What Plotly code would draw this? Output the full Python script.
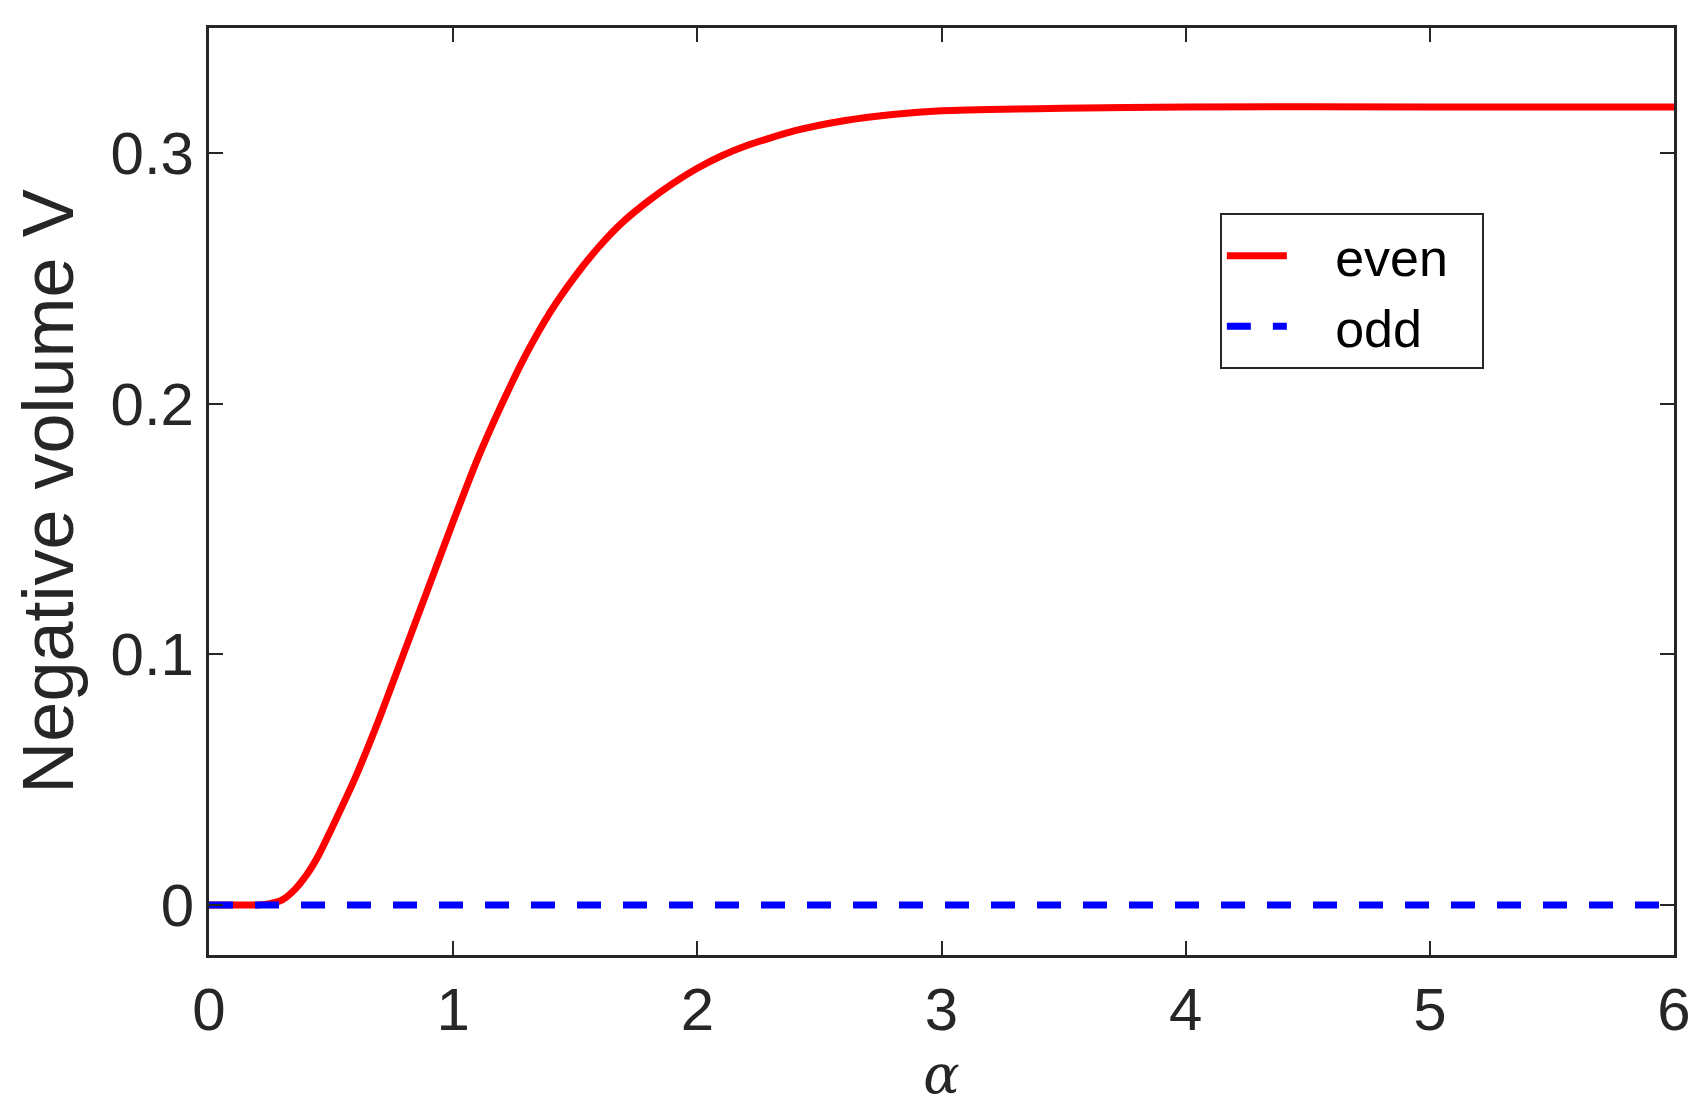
import plotly.graph_objects as go

alpha_even = [0, 0.1, 0.2, 0.25, 0.3, 0.35, 0.4, 0.45, 0.5, 0.6, 0.7, 0.8, 0.9, 1.0, 1.1, 1.2, 1.3, 1.4, 1.5, 1.6, 1.7, 1.8, 1.9, 2.0, 2.1, 2.2, 2.4, 2.6, 2.8, 3.0, 3.5, 4.0, 5.0, 6.0]
v_even = [0, 0, 0, 0.0005, 0.002, 0.006, 0.012, 0.02, 0.03, 0.051, 0.075, 0.101, 0.127, 0.153, 0.178, 0.200, 0.220, 0.237, 0.251, 0.263, 0.273, 0.281, 0.288, 0.294, 0.299, 0.303, 0.309, 0.313, 0.3155, 0.317, 0.318, 0.3185, 0.3185, 0.3185]
alpha_odd = [0, 6]
v_odd = [0, 0]
x_ticks = [0, 1, 2, 3, 4, 5, 6]
y_ticks = [0, 0.1, 0.2, 0.3]
y_labels = ["0", "0.1", "0.2", "0.3"]

fig = go.Figure()
fig.add_trace(go.Scatter(x=alpha_even, y=v_even, mode="lines", name="   even  ",
                         line=dict(color="#ff0000", width=7, shape="spline", smoothing=0.6)))
fig.add_trace(go.Scatter(x=alpha_odd, y=v_odd, mode="lines", name="   odd",
                         line=dict(color="#0000ff", width=7, dash="24px,22px")))
font = dict(family="Liberation Sans, Arial, sans-serif", size=60, color="#262626")
ax = dict(showgrid=False, zeroline=False, showline=True, mirror="ticks", linecolor="#262626",
          linewidth=3, ticks="inside", ticklen=14, tickwidth=2, tickcolor="#262626", tickfont=font)
fig.update_layout(
    width=1699, height=1117, plot_bgcolor="white", paper_bgcolor="white",
    margin=dict(l=201, r=33, t=20, b=170), font=font,
    xaxis=dict(range=[0, 6], tickvals=x_ticks, title=dict(text="<i>α</i>", font=dict(family="DejaVu Serif, serif", size=54, color="#262626"), standoff=8), **ax),
    yaxis=dict(range=[-0.02, 0.35], tickvals=y_ticks, ticktext=y_labels, title=dict(text="Negative volume V", standoff=16), **ax),
    legend=dict(x=0.69, y=0.80, xanchor="left", yanchor="top", bordercolor="#262626", borderwidth=2,
                bgcolor="white", font=dict(family="Liberation Sans, Arial, sans-serif", size=52, color="#000"),
                itemwidth=60, tracegroupgap=14),
)
fig.write_html("out.html")
